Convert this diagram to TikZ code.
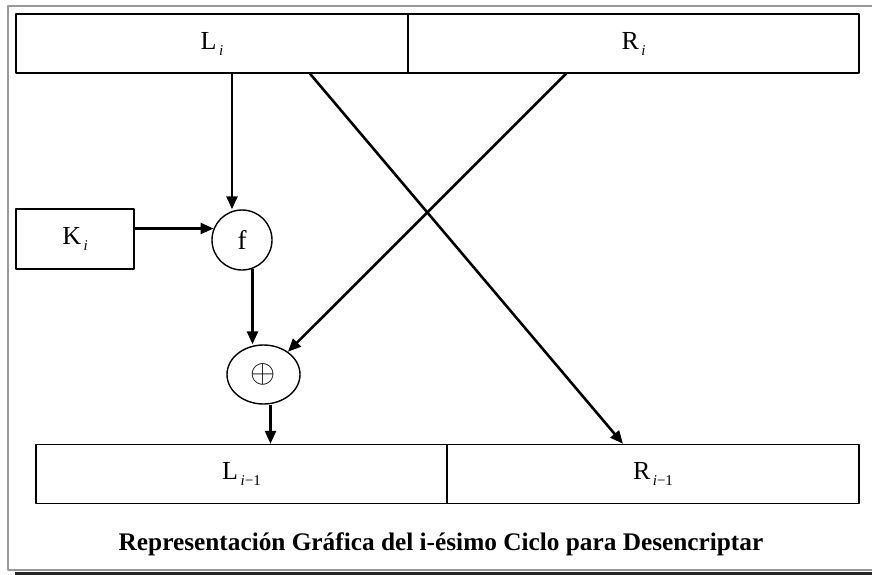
\documentclass[tikz,border=0pt]{standalone}
\usepackage{fontspec}
\usepackage{graphicx}
\setmainfont{Liberation Serif}
\usetikzlibrary{arrows.meta,positioning,shapes.geometric}
\newcommand{\blk}[2]{#1\hspace{2.5pt}\raisebox{-6pt}{\fontsize{15}{15}\selectfont #2}}

\begin{document}
\begin{tikzpicture}[x=1pt, y=-1pt, line join=round,
  box/.style={draw, line width=1.4pt, inner sep=0pt, minimum height=59pt, font=\fontsize{26}{30}\selectfont},
  arr/.style={-{Triangle[length=13pt,width=11pt]}, line width=2.6pt}]
\useasboundingbox (0,0) rectangle (872,575);
\draw[gray!80, line width=1.2pt] (872,6) -- (8,6) -- (8,570) -- (872,570);
\draw[black!85, line width=3pt] (15,573) -- (872,573);
\node[box, minimum width=392pt] (Li) at (212,43.5) {\blk{L}{\itshape i}};
\node[box, minimum width=451pt] (Ri) at (633.5,43.5) {\blk{R}{\itshape i}};
\node[box, minimum width=118pt, minimum height=60pt] (Ki) at (75,239) {\blk{K}{\itshape i}};
\node[draw, circle, line width=1.4pt, minimum size=60pt, inner sep=0pt, font=\fontsize{27}{30}\selectfont] (f) at (242,240) {f};
\node[draw, ellipse, line width=1.4pt, minimum width=73pt, minimum height=59pt, inner sep=0pt, font=\fontsize{24}{28}\selectfont] (x) at (263.5,374.5) {\scalebox{1.3}{$\oplus$}};
\node[box, minimum width=411pt] (L1) at (241.5,474) {\blk{L}{{\itshape i}−1}};
\node[box, minimum width=412pt] (R1) at (653,474) {\blk{R}{{\itshape i}−1}};
\coordinate (la) at (232,73);
\draw[arr] (la) -- (la |- f.north);
\draw[arr] (Ki.east |- f.158) -- (f.158);
\draw[arr] (f.-70) -- (f.-70 |- x.north);
\draw[arr] ([xshift=7pt]x.south) -- ([xshift=7pt]x.south |- L1.north);
\draw[arr] ([xshift=98pt]Li.south) -- ([xshift=-30pt]R1.north);
\draw[arr] ([xshift=-67.5pt]Ri.south) -- (x.43);
\node[font=\bfseries\fontsize{25.3}{29}\selectfont, anchor=base] (cap) at (441,550) {Representación Gráfica del i-ésimo Ciclo para Desencriptar};
\end{tikzpicture}
\end{document}
